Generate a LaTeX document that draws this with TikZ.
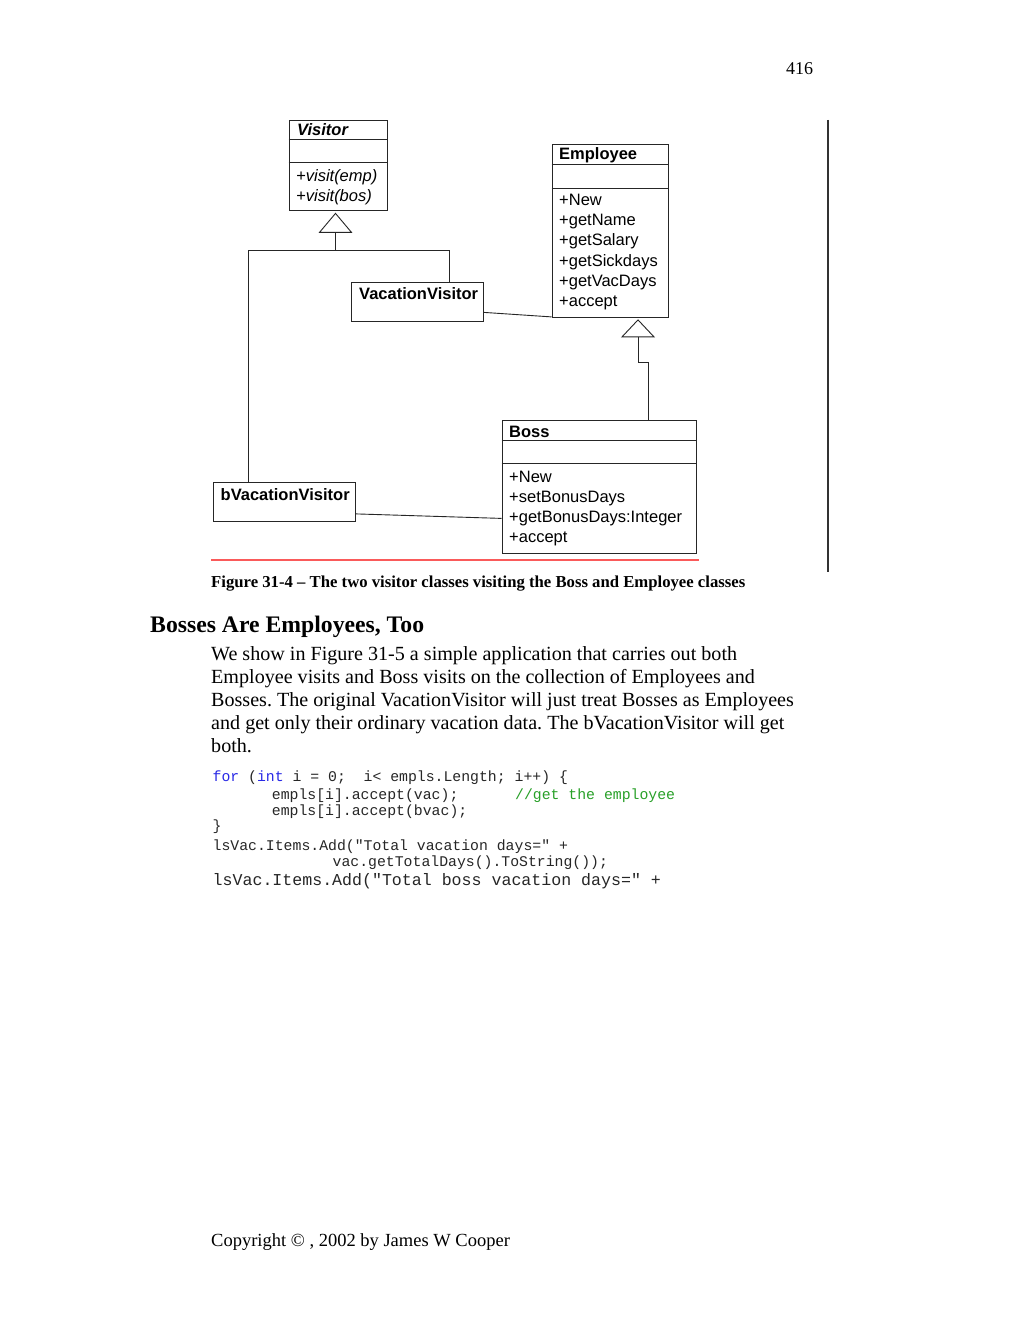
\documentclass[tikz,border=0pt]{standalone}
\usepackage{fontspec}
\setmainfont{Liberation Serif}
\setsansfont{Liberation Sans}
\setmonofont{Liberation Mono}
\usetikzlibrary{calc}
\definecolor{kwblue}{RGB}{40,40,230}
\definecolor{cmgreen}{RGB}{40,160,40}
\definecolor{capred}{RGB}{250,90,90}
\frenchspacing
\begin{document}
\begin{tikzpicture}[x=1pt,y=-1pt,
  umlbox/.style={draw=black!85, line width=0.9pt, inner sep=0, rectangle, anchor=north west},
  umlline/.style={draw=black!85, line width=0.9pt},
  umltxt/.style={font=\sffamily\fontsize{16.5}{20}\selectfont, anchor=base west, inner sep=0},
  umlbold/.style={umltxt, font=\sffamily\bfseries\fontsize{16.5}{20}\selectfont},
  bodytxt/.style={font=\fontsize{20.1}{23}\selectfont, anchor=base west, inner sep=0},
  codetxt/.style={font=\ttfamily\fontsize{14.8}{17}\selectfont, text=black!85, anchor=base west, inner sep=0},
]
\path[use as bounding box, fill=white] (0,0) rectangle (1023,1324);

% page number
\node[font=\fontsize{18}{20}\selectfont, anchor=base west, inner sep=0] (pagenum) at (786,75) {416};

% vertical rule
\coordinate (vrtop) at (828,120);
\coordinate (vrbot) at (828,572);
\draw[black!80, line width=1.2pt] (vrtop) -- (vrbot);

% ---- boxes
\node[umlbox, minimum width=98pt, minimum height=90pt] (visitor) at (288.5,120.5) {};
\node[umlbox, minimum width=116.5pt, minimum height=173pt] (employee) at (551.5,144) {};
\node[umlbox, minimum width=132pt, minimum height=39pt] (vacvis) at (351,282) {};
\node[umlbox, minimum width=194.5pt, minimum height=132.5pt] (boss) at (501.5,420) {};
\node[umlbox, minimum width=142pt, minimum height=39pt] (bvac) at (213,482) {};

% dividers
\draw[umlline] ($(visitor.north west)+(0,19)$) -- ($(visitor.north east)+(0,19)$);
\draw[umlline] ($(visitor.north west)+(0,41.5)$) -- ($(visitor.north east)+(0,41.5)$);
\draw[umlline] ($(employee.north west)+(0,20.5)$) -- ($(employee.north east)+(0,20.5)$);
\draw[umlline] ($(employee.north west)+(0,44.5)$) -- ($(employee.north east)+(0,44.5)$);
\draw[umlline] ($(boss.north west)+(0,20)$) -- ($(boss.north east)+(0,20)$);
\draw[umlline] ($(boss.north west)+(0,43.5)$) -- ($(boss.north east)+(0,43.5)$);

% texts in boxes
\node[umltxt, font=\sffamily\bfseries\itshape\fontsize{16.5}{20}\selectfont] (vistitle) at (297,136) {Visitor};
\node[umltxt, font=\sffamily\itshape\fontsize{16.5}{20}\selectfont] (vis1) at (296,181.5) {+visit(emp)};
\node[umltxt, font=\sffamily\itshape\fontsize{16.5}{20}\selectfont] (vis2) at (296,201.5) {+visit(bos)};

\node[umlbold] (emptitle) at (559,160) {Employee};
\foreach \t [count=\i] in {+New,+getName,+getSalary,+getSickdays,+getVacDays,+accept}
  \node[umltxt] (emp\i) at (559,186+20*\i) {\t};

\node[umlbold] (vactitle) at (359,299) {VacationVisitor};
\node[umlbold] (bvactitle) at (220.5,500) {bVacationVisitor};

\node[umlbold] (bosstitle) at (509,437) {Boss};
\foreach \t [count=\i] in {+New,+setBonusDays,+getBonusDays:Integer,+accept}
  \node[umltxt] (boss\i) at (509,462+20*\i) {\t};

% ---- generalization Visitor
\coordinate (vapex) at ($(visitor.south west)+(47,2)$);
\coordinate (vbase) at ($(vapex)+(0,19)$);
\coordinate (vjoin) at ($(vbase)+(0,18)$);
\draw[umlline] (vapex) -- ++(16,19) -- ++(-32,0) -- cycle;
\draw[umlline] (vbase) -- (vjoin);
\draw[umlline] ($(bvac.north west)+(35,0)$) |- (vjoin) -| ($(vacvis.north west)+(98,0)$);

% ---- generalization Employee
\coordinate (eapex) at ($(employee.south west)+(86.5,2)$);
\coordinate (ebase) at ($(eapex)+(0,17)$);
\coordinate (ejoin) at ($(ebase)+(0,26)$);
\draw[umlline] (eapex) -- ++(16,17) -- ++(-32,0) -- cycle;
\draw[umlline] (ebase) -- (ejoin) -| ($(boss.north west)+(146.5,0)$);

% ---- associations
\draw[umlline] ($(vacvis.south east)+(0,-9.5)$) -- ($(employee.south west)+(0,-1)$);
\draw[umlline] ($(bvac.south east)+(0,-8)$) -- ($(boss.south west)+(0,-35)$);

% ---- red rule
\coordinate (redL) at (211,560);
\coordinate (redR) at (699,560);
\draw[capred, line width=1.5pt] (redL) -- (redR);

% caption
\node[font=\bfseries\fontsize{16.7}{19}\selectfont, anchor=base west, inner sep=0] (caption) at (211,587)
  {Figure 31-4 – The two visitor classes visiting the Boss and Employee classes};

% heading
\node[font=\bfseries\fontsize{23.7}{27}\selectfont, anchor=base west, inner sep=0] (heading) at (150,632)
  {Bosses Are Employees, Too};

% body
\node[bodytxt] (body1) at (211,660) {We show in Figure 31-5 a simple application that carries out both};
\node[bodytxt] (body2) at (211,683) {Employee visits and Boss visits on the collection of Employees and};
\node[bodytxt] (body3) at (211,706) {Bosses. The original VacationVisitor will just treat Bosses as Employees};
\node[bodytxt] (body4) at (211,729) {and get only their ordinary vacation data. The bVacationVisitor will get};
\node[bodytxt] (body5) at (211,752) {both.};

% code
\node[codetxt] (code1) at (212.5,781) {{\color{kwblue}for} ({\color{kwblue}int} i = 0;\ \ i< empls.Length; i++) \{};
\node[codetxt] (code2) at (271.7,799) {empls[i].accept(vac);};
\node[codetxt, text=cmgreen] (code2c) at (515,799) {//get the employee};
\node[codetxt] (code3) at (271.7,815) {empls[i].accept(bvac);};
\node[codetxt] (code4) at (212.5,830) {\}};
\node[codetxt] (code5) at (212.5,850) {lsVac.Items.Add("Total vacation days=" +};
\node[codetxt] (code6) at (332.5,866) {vac.getTotalDays().ToString());};
\node[codetxt, font=\ttfamily\fontsize{16.6}{19}\selectfont] (code7) at (212.5,885) {lsVac.Items.Add("Total boss vacation days=" +};

% copyright
\node[font=\fontsize{18.5}{22}\selectfont, anchor=base west, inner sep=0] (copyright) at (211,1246)
  {Copyright © , 2002 by James W Cooper};
\end{tikzpicture}
\end{document}
